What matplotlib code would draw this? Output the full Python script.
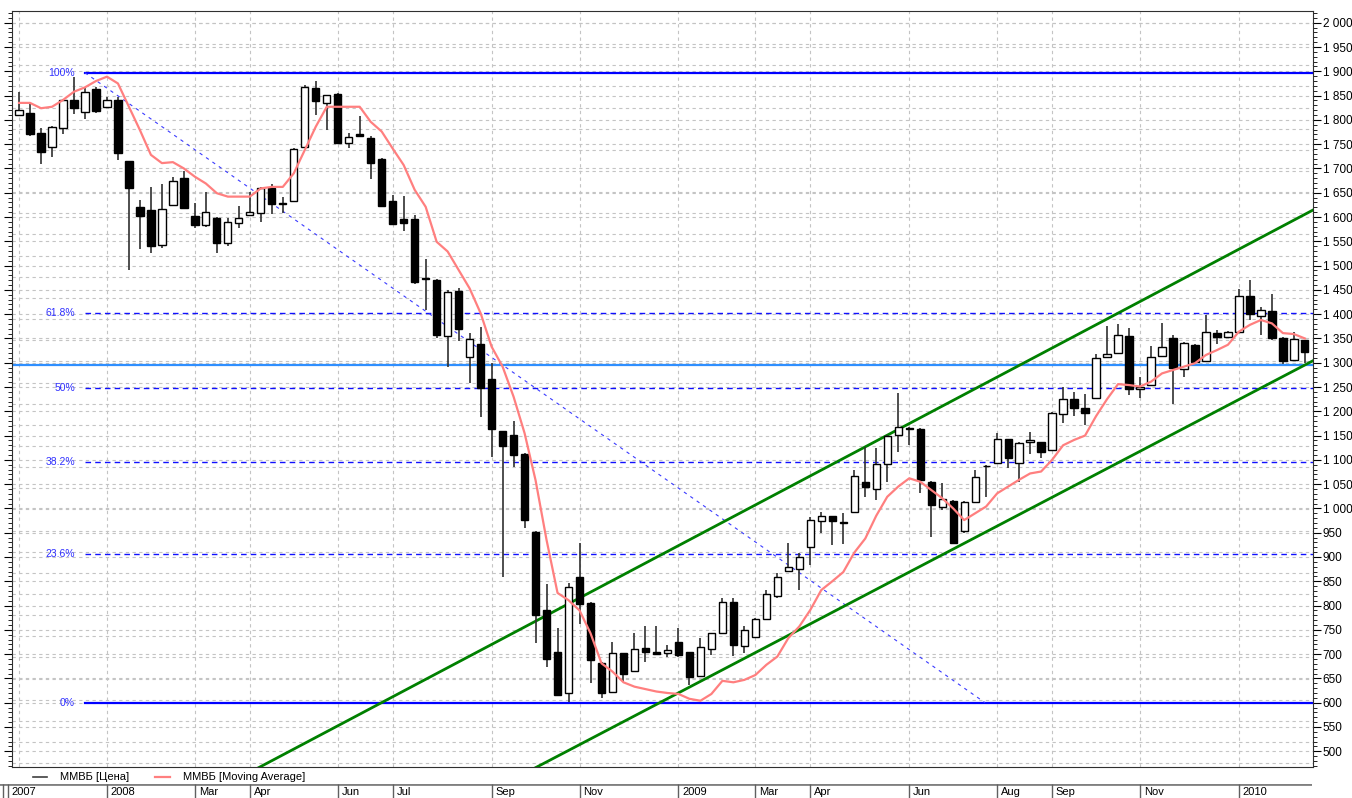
import matplotlib
matplotlib.use("Agg")
import matplotlib.pyplot as plt
from matplotlib.lines import Line2D
from matplotlib.ticker import MultipleLocator, FuncFormatter
import numpy as np

plt.rcParams['font.family'] = ['Liberation Sans', 'DejaVu Sans']

# weekly candles, ММВБ index
opens = [1810, 1815, 1772, 1745, 1784, 1840, 1817, 1863, 1827, 1841,
         1715, 1621, 1614, 1542, 1625, 1680, 1603, 1584, 1599, 1547,
         1587, 1604, 1608, 1659, 1629, 1634, 1744, 1865, 1834, 1853,
         1752, 1770, 1763, 1719, 1632, 1595, 1595, 1475, 1470, 1355,
         1448, 1312, 1339, 1266, 1159, 1151, 1112, 952, 791, 705,
         619, 858, 806, 682, 621, 702, 666, 713, 704, 703,
         726, 704, 655, 710, 743, 808, 717, 735, 772, 820,
         871, 875, 921, 975, 984, 972, 993, 1055, 1040, 1091,
         1151, 1166, 1163, 1055, 1003, 1016, 954, 1014, 1088, 1094,
         1142, 1094, 1136, 1136, 1120, 1194, 1225, 1206, 1227, 1311,
         1321, 1356, 1245, 1254, 1313, 1351, 1287, 1337, 1304, 1362,
         1353, 1364, 1437, 1397, 1406, 1351, 1306, 1346]
highs = [1858, 1832, 1783, 1788, 1843, 1889, 1865, 1868, 1848, 1848,
         1716, 1635, 1662, 1669, 1682, 1695, 1628, 1651, 1600, 1597,
         1623, 1651, 1662, 1667, 1642, 1742, 1872, 1880, 1852, 1855,
         1772, 1807, 1767, 1722, 1645, 1643, 1604, 1513, 1473, 1450,
         1453, 1362, 1374, 1299, 1160, 1179, 1115, 953, 844, 753,
         847, 928, 807, 684, 724, 703, 743, 758, 758, 719,
         753, 705, 733, 744, 815, 815, 758, 774, 832, 868,
         928, 909, 983, 993, 985, 990, 1079, 1127, 1124, 1152,
         1238, 1168, 1165, 1056, 1053, 1017, 1016, 1079, 1090, 1155,
         1143, 1137, 1158, 1137, 1199, 1251, 1240, 1236, 1318, 1376,
         1379, 1371, 1271, 1334, 1381, 1357, 1343, 1338, 1399, 1367,
         1365, 1451, 1470, 1414, 1441, 1352, 1364, 1347]
lows = [1808, 1767, 1710, 1724, 1771, 1813, 1801, 1815, 1826, 1717,
        1491, 1535, 1525, 1536, 1624, 1616, 1577, 1580, 1525, 1540,
        1577, 1603, 1590, 1606, 1608, 1632, 1742, 1810, 1780, 1752,
        1742, 1764, 1678, 1622, 1584, 1572, 1462, 1408, 1350, 1291,
        1345, 1258, 1189, 1106, 859, 1086, 959, 722, 673, 614,
        602, 763, 640, 609, 620, 643, 665, 684, 699, 695,
        695, 636, 654, 698, 742, 696, 703, 734, 771, 815,
        870, 832, 883, 950, 925, 926, 992, 1024, 1017, 1055,
        1117, 1131, 1031, 942, 997, 928, 949, 1013, 1024, 1093,
        1083, 1055, 1112, 1103, 1119, 1175, 1190, 1172, 1226, 1310,
        1320, 1233, 1227, 1253, 1312, 1215, 1271, 1300, 1303, 1339,
        1352, 1363, 1388, 1358, 1346, 1297, 1305, 1299]
closes = [1821, 1770, 1734, 1786, 1841, 1824, 1857, 1818, 1841, 1731,
          1659, 1602, 1541, 1616, 1674, 1618, 1584, 1611, 1546, 1590,
          1598, 1610, 1660, 1626, 1627, 1740, 1868, 1838, 1851, 1753,
          1764, 1766, 1712, 1623, 1585, 1587, 1467, 1473, 1357, 1445,
          1370, 1348, 1247, 1163, 1129, 1110, 976, 781, 691, 616,
          838, 803, 688, 619, 703, 660, 710, 704, 700, 708,
          698, 652, 714, 743, 808, 719, 750, 772, 823, 859,
          880, 901, 976, 984, 975, 971, 1067, 1044, 1091, 1150,
          1168, 1164, 1059, 1007, 1019, 929, 1014, 1065, 1087, 1142,
          1104, 1135, 1141, 1116, 1196, 1225, 1207, 1197, 1310, 1317,
          1358, 1245, 1250, 1311, 1332, 1289, 1341, 1301, 1363, 1353,
          1364, 1437, 1400, 1408, 1351, 1304, 1349, 1322]
moving_avg = [1835, 1835, 1824, 1827, 1841, 1858, 1867, 1880, 1889, 1875,
              1827, 1779, 1728, 1711, 1713, 1700, 1683, 1669, 1649, 1642,
              1642, 1642, 1659, 1662, 1662, 1690, 1738, 1786, 1827, 1827,
              1827, 1827, 1796, 1776, 1741, 1707, 1656, 1621, 1549, 1529,
              1491, 1453, 1402, 1333, 1292, 1230, 1155, 1058, 935, 826,
              811, 790, 743, 681, 664, 642, 633, 628, 623, 620,
              618, 608, 604, 618, 645, 642, 647, 657, 678, 695,
              733, 757, 791, 832, 850, 869, 909, 938, 985, 1024,
              1045, 1062, 1055, 1038, 1021, 1000, 976, 990, 1004, 1031,
              1045, 1059, 1072, 1076, 1100, 1130, 1141, 1150, 1190, 1225,
              1256, 1254, 1251, 1261, 1278, 1285, 1292, 1299, 1316, 1326,
              1337, 1364, 1378, 1388, 1381, 1361, 1359, 1350]

# date strip: labels and the candle index where each period starts
date_labels = ["2007", "2008", "Mar", "Apr", "Jun", "Jul", "Sep", "Nov",
               "2009", "Mar", "Apr", "Jun", "Aug", "Sep", "Nov", "2010"]
date_starts = [-1.0, 8, 16, 21, 29, 34, 43, 51, 60, 67, 72, 81, 89, 94, 102, 111]

# drawing tools
fib_high, fib_low = 1897, 600
fib_ratios = [1.0, 0.618, 0.5, 0.382, 0.236, 0.0]
fib_names = ["100%", "61.8%", "50%", "38.2%", "23.6%", "0%"]
fib_start = 6.0
diag_end = 87.9
support_level = 1295
upper_channel = [(21.75, 465.6), (117.74, 1614.4)]
lower_channel = [(46.95, 465.6), (117.74, 1304.1)]

W, H = 1352, 798
fig = plt.figure(figsize=(W / 100, H / 100), dpi=100)
ax = fig.add_axes([12 / W, 1 - 767 / H, 1301 / W, 756 / H])

n = len(closes)
idx = np.arange(n)
o = np.array(opens); c = np.array(closes)
hi = np.array(highs); lo = np.array(lows)

x_min, x_max = -0.64, 117.74
y_min, y_max = 467.6, 2024.2
ax.set_xlim(x_min, x_max)
ax.set_ylim(y_min, y_max)

# grid
grid_kw = dict(color='#c4c4c4', lw=0.8, linestyle=(0, (3, 3)), zorder=0)
for v in np.arange(500, 2001, 50):
    ax.axhline(v, **grid_kw)
for v in 1477 + 43.55 * np.arange(-23, 13):
    if y_min < v < y_max:
        ax.axhline(v, **grid_kw)
for xv in [0] + date_starts[1:]:
    ax.axvline(xv, **grid_kw)

# fibonacci levels
for r, name in zip(fib_ratios, fib_names):
    lvl = fib_low + r * (fib_high - fib_low)
    if r in (0.0, 1.0):
        ax.plot([fib_start, x_max], [lvl, lvl], color='#0000ff', lw=1.6, zorder=2)
    else:
        ax.plot([fib_start, x_max], [lvl, lvl], color='#1010ff', lw=1.0,
                linestyle=(0, (4, 3)), zorder=2)
    ax.text(fib_start - 0.9, lvl, name, color='#3030ff', fontsize=7.5,
            ha='right', va='center')
ax.plot([fib_start, diag_end], [fib_high, fib_low], color='#3a3aff', lw=0.8,
        linestyle=(0, (3, 4)), zorder=2)

ax.axhline(support_level, color='#2f8fff', lw=1.6, zorder=2)
for ch in (upper_channel, lower_channel):
    ax.plot([p[0] for p in ch], [p[1] for p in ch], color='#008000', lw=2, zorder=3)

# candles
up = c >= o
ax.vlines(idx, lo, hi, color='#303030', lw=1.2, zorder=4)
ax.bar(idx, np.abs(c - o), bottom=np.minimum(o, c), width=0.66,
       color=np.where(up, 'white', 'black'), edgecolor='black', linewidth=1, zorder=5)

ax.plot(idx, moving_avg, color='#ff7f7f', lw=1.6, zorder=6)

# axes styling
for s in ax.spines.values():
    s.set_color('#303030')
ax.yaxis.set_major_locator(MultipleLocator(50))
ax.yaxis.set_minor_locator(MultipleLocator(10))
ax.yaxis.set_major_formatter(FuncFormatter(lambda v, p: f"{int(v):,}".replace(",", " ")))
ax.tick_params(axis='y', which='both', direction='out', left=True, right=True,
               labelleft=False, labelright=True, labelsize=8.5, pad=1)
ax.tick_params(axis='y', which='major', length=6)
ax.tick_params(axis='y', which='minor', length=3)
ax.set_xticks([])

# legend row
ly = 1 - 777 / H
fig.add_artist(Line2D([33 / W, 47 / W], [ly, ly], color='#404040', lw=1.2))
fig.text(60 / W, ly, "ММВБ [Цена]", fontsize=8, va='center')
fig.add_artist(Line2D([155 / W, 170 / W], [ly, ly], color='#ff7f7f', lw=1.6))
fig.text(183 / W, ly, "ММВБ [Moving Average]", fontsize=8, va='center')

# date strip
axd = fig.add_axes([0, 0, 1312 / W, 14 / H])
axd.set_xlim(-1.729, 117.65)
axd.set_ylim(0, 1)
axd.axis('off')
axd.axhline(1, color='#808080', lw=2)
axd.vlines([-1.46] + date_starts, 0, 1, color='#606060', lw=1)
for lab, pos in zip(date_labels, date_starts):
    axd.text(pos + 0.35, 0.4, lab, fontsize=8, va='center', ha='left')

fig.savefig("out.png", dpi=100)
